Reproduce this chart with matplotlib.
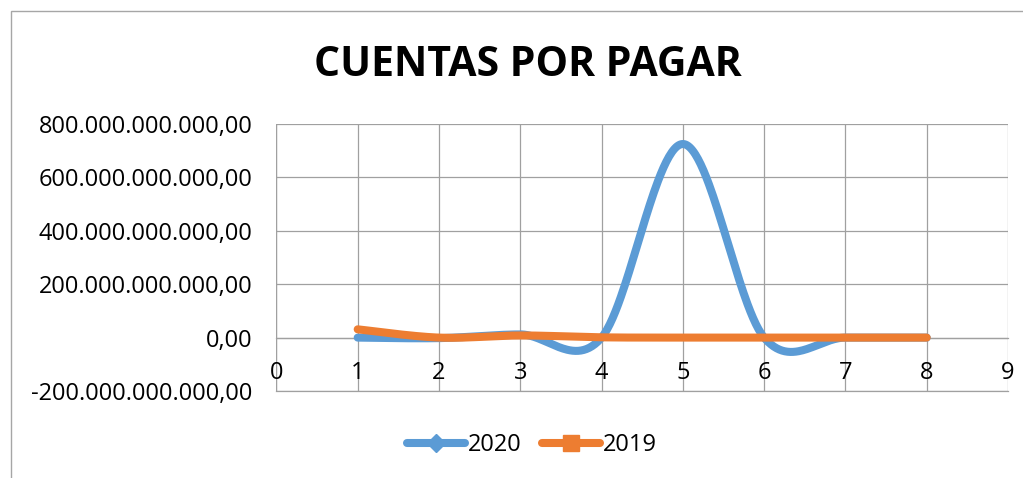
import numpy as np
import matplotlib
matplotlib.use("Agg")
import matplotlib.pyplot as plt
from matplotlib.lines import Line2D
from matplotlib.patches import Rectangle
from matplotlib.ticker import FuncFormatter

plt.rcParams['font.family'] = ['Open Sans', 'DejaVu Sans']

title = "CUENTAS POR PAGAR"
x_vals = [1, 2, 3, 4, 5, 6, 7, 8]
serie_2020 = [0, -2e9, 12e9, 0, 725e9, 0, 0, 0]
serie_2019 = [31e9, 0, 8e9, 1e9, 0, 0, 0, 0]
labels = ["2020", "2019"]
colors = ["#5B9BD5", "#ED7D31"]
y_ticks = [-200e9, 0, 200e9, 400e9, 600e9, 800e9]
x_ticks = list(range(0, 10))


def excel_smooth(x, y, n=60):
    pts = np.column_stack([np.asarray(x, float), np.asarray(y, float)])
    m = len(pts)
    out = []
    t = np.linspace(0, 1, n)[:, None]
    for i in range(m - 1):
        p0 = pts[i - 1] if i > 0 else pts[i]
        p1 = pts[i]
        p2 = pts[i + 1]
        p3 = pts[i + 2] if i + 2 < m else pts[i + 1]
        c1 = p1 + (p2 - p0) / 6.0
        c2 = p2 - (p3 - p1) / 6.0
        seg = ((1 - t) ** 3) * p1 + 3 * ((1 - t) ** 2) * t * c1 + 3 * (1 - t) * t ** 2 * c2 + t ** 3 * p2
        out.append(seg if i == 0 else seg[1:])
    seg = np.vstack(out)
    return seg[:, 0], seg[:, 1]


def fmt(v, pos):
    s = "{:,.2f}".format(v)
    s = s.replace(",", "X").replace(".", ",").replace("X", ".")
    return s


fig = plt.figure(figsize=(10.23, 4.78), dpi=100)
ax = fig.add_axes([276.4 / 1023, 1 - 391 / 478, (1008 - 276.4) / 1023, (391 - 124) / 478])

grid_c = "#A0A0A0"
for s, c in zip([serie_2020, serie_2019], colors):
    xs, ys = excel_smooth(x_vals, s)
    ax.plot(xs, ys, color=c, lw=5.8, solid_capstyle='round', solid_joinstyle='round', zorder=3)

ax.set_xlim(0, 9)
ax.set_ylim(-200e9, 800e9)
ax.set_xticks(x_ticks)
ax.set_yticks(y_ticks)
ax.yaxis.set_major_formatter(FuncFormatter(fmt))
ax.grid(True, color=grid_c, lw=0.9, zorder=0)
for sp in ['top', 'right', 'left']:
    ax.spines[sp].set_visible(False)
ax.spines['bottom'].set_position(('data', 0))
ax.spines['bottom'].set_color(grid_c)
ax.spines['bottom'].set_linewidth(0.9)
ax.tick_params(axis='both', length=0, labelsize=17, colors='black')
ax.tick_params(axis='x', pad=17)
ax.tick_params(axis='y', pad=17)
ax.axvline(0, color=grid_c, lw=0.9, zorder=0)
ax.axhline(-200e9, color=grid_c, lw=0.9, zorder=0, clip_on=False)

fig.text(0.516, 0.862, title, ha='center', va='center', fontsize=29.5, fontweight='bold')

handles = [
    Line2D([], [], color=colors[0], lw=5.8, marker='D', markersize=9, solid_capstyle='round'),
    Line2D([], [], color=colors[1], lw=5.8, marker='s', markersize=11, solid_capstyle='round'),
]
fig.legend(handles, labels, loc='center', bbox_to_anchor=(0.52, 1 - 445 / 478), ncol=2,
           frameon=False, fontsize=17, handlelength=2.45, handletextpad=0.1, columnspacing=0.9)

fig.patches.append(Rectangle((11 / 1023, -0.1), 1.2, 1 - 11 / 478 + 0.1, transform=fig.transFigure,
                             fill=False, edgecolor="#A6A6A6", lw=1.0))

fig.savefig("out.png", dpi=100)
